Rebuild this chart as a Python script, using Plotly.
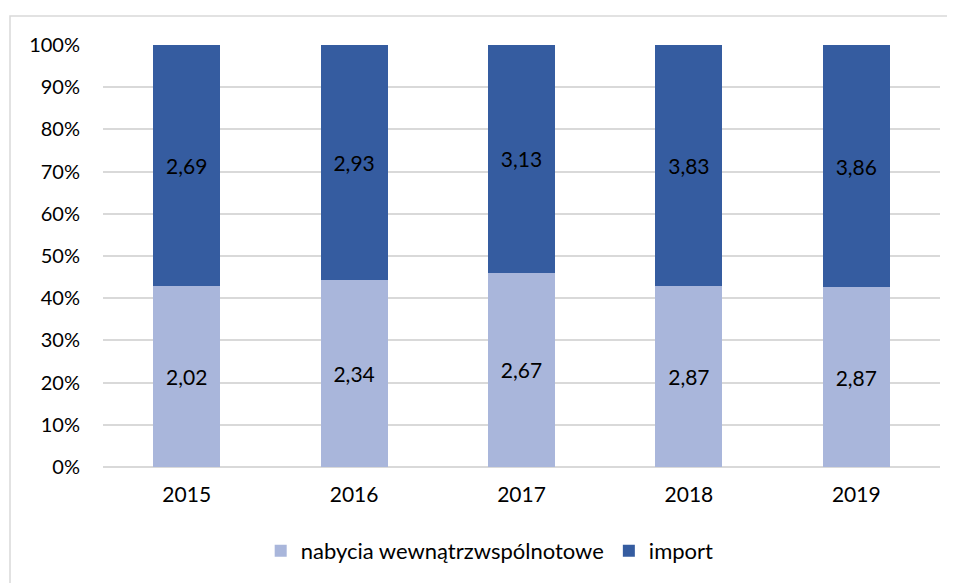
import plotly.graph_objects as go

years = ["2015", "2016", "2017", "2018", "2019"]
nabycia = [2.02, 2.34, 2.67, 2.87, 2.87]
imports = [2.69, 2.93, 3.13, 3.83, 3.86]
y_ticks = [0, 10, 20, 30, 40, 50, 60, 70, 80, 90, 100]

def fmt(v):
    return f"{v:.2f}".replace(".", ",")

font = "Lato, Carlito, 'Open Sans', sans-serif"

fig = go.Figure()
fig.add_trace(go.Bar(x=years, y=nabycia, name="nabycia wewnątrzwspólnotowe",
                     marker=dict(color="#A9B6DB", line=dict(width=0)),
                     text=[fmt(v) for v in nabycia], textposition="inside",
                     insidetextanchor="middle", textfont=dict(color="black", size=21, family=font),
                     hoverinfo="skip"))
fig.add_trace(go.Bar(x=years, y=imports, name="import",
                     marker=dict(color="#355CA0", line=dict(width=0)),
                     text=[fmt(v) for v in imports], textposition="inside",
                     insidetextanchor="middle", textfont=dict(color="black", size=21, family=font),
                     hoverinfo="skip"))

W, H = 947, 575
PL, PT, PW, PH = 95, 37, 837, 423

fig.update_layout(
    barmode="stack", barnorm="percent", bargap=0.6,
    width=W, height=H,
    margin=dict(l=PL, r=W - PL - PW, t=PT, b=H - PT - PH),
    paper_bgcolor="white", plot_bgcolor="white",
    font=dict(family=font, size=21, color="black"),
    showlegend=True,
    legend=dict(orientation="h", x=0.462, xanchor="center", y=(PT + PH - 543) / PH, yanchor="middle",
                font=dict(size=22), itemwidth=30, traceorder="normal"),
    xaxis=dict(showgrid=False, showline=False, ticks="", ticklabelstandoff=13,
               tickfont=dict(size=21)),
    yaxis=dict(range=[0, 100], tickvals=y_ticks, ticktext=[f"{v}%" for v in y_ticks],
               showgrid=True, gridcolor="#D9D9D9", gridwidth=1.5,
               zeroline=True, zerolinecolor="#D9D9D9", zerolinewidth=1.5,
               showline=False, ticks="", ticklabelstandoff=22, tickfont=dict(size=20)),
    shapes=[dict(type="rect", xref="paper", yref="paper",
                 x0=(2 - PL) / PW, x1=1.2, y0=-0.5, y1=1 + (PT - 8) / PH,
                 line=dict(color="#D9D9D9", width=1.5), fillcolor="rgba(0,0,0,0)", layer="below")],
)

fig.write_html("out.html")
